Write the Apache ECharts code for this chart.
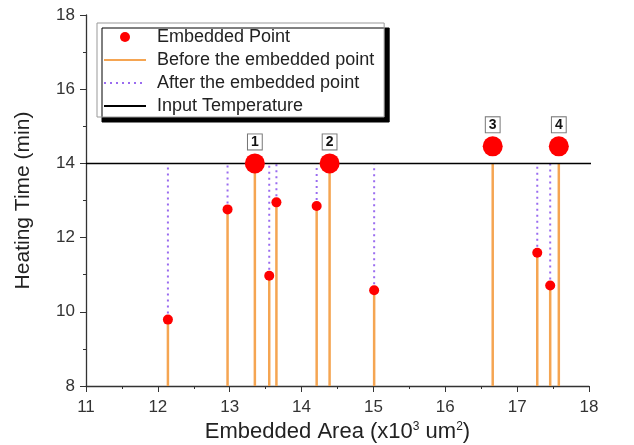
<!DOCTYPE html>
<html><head><meta charset="utf-8">
<script src="https://cdn.jsdelivr.net/npm/echarts@6/dist/echarts.min.js"></script>
<style>html,body{margin:0;padding:0;background:#fff}#c{width:634px;height:445px}</style>
</head><body><div id="c"></div>
<script>
const areas = [12.14, 12.97, 13.35, 13.55, 13.65, 14.21, 14.39, 15.01, 16.66, 17.28, 17.46, 17.58];
const times = [9.79, 12.76, 14.0, 10.97, 12.95, 12.85, 14.0, 10.58, 14.46, 11.59, 10.71, 14.46];
const pointLabels = ['', '', '1', '', '', '', '2', '', '3', '', '', '4'];
const inputTemperature = 14;
const inputRange = [11, 18.3];
const yMin = 8;
const xTicks = [11, 12, 13, 14, 15, 16, 17, 18];
const yTicks = [8, 10, 12, 14, 16, 18];

const before = [], after = [];
areas.forEach((x, i) => {
  const t = times[i];
  before.push([x, yMin], [x, Math.min(t, inputTemperature)], [x, '-']);
  if (t < inputTemperature) after.push([x, t], [x, inputTemperature], [x, '-']);
});
const points = areas.map((x, i) => ({
  value: [x, times[i]],
  symbolSize: pointLabels[i] ? 20 : 10,
  label: {show: !!pointLabels[i], formatter: pointLabels[i]}
}));

const font = 'Liberation Sans, Arial, sans-serif';
const noSym = {opacity: 0};
const chart = echarts.init(document.getElementById('c'), null, {renderer: 'canvas'});
chart.setOption({
  animation: false,
  textStyle: {fontFamily: font},
  grid: {left: 86, right: 45, top: 15, bottom: 59, containLabel: false, outerBoundsMode: 'none'},
  legend: {
    left: 97, top: 23, orient: 'vertical',
    itemGap: 5, itemWidth: 42, itemHeight: 10,
    padding: [5, 10, 2, 6],
    backgroundColor: '#fff', borderColor: '#999', borderWidth: 1,
    shadowColor: '#000', shadowBlur: 0, shadowOffsetX: 5, shadowOffsetY: 5,
    textStyle: {fontSize: 18, lineHeight: 18, color: '#222', fontFamily: font, padding: [0, 0, 0, 6]},
    data: [
      {name: 'Embedded Point'},
      {name: 'Before the embedded point', itemStyle: noSym},
      {name: 'After the embedded point', itemStyle: noSym},
      {name: 'Input Temperature', itemStyle: noSym}
    ]
  },
  xAxis: {
    type: 'value', min: 11, max: 18, interval: 1,
    name: 'Embedded Area (x10{sup|3} um{sup|2})', nameLocation: 'middle', nameGap: 33,
    nameTextStyle: {fontSize: 22, color: '#222', rich: {sup: {fontSize: 12, color: '#222', padding: [0, 0, 10, 0]}}},
    axisLine: {show: true, lineStyle: {color: '#333', width: 1.3}},
    axisTick: {show: true, length: 6, lineStyle: {color: '#333'}},
    minorTick: {show: true, splitNumber: 2, length: 3, lineStyle: {color: '#333'}},
    axisLabel: {fontSize: 17, color: '#333', margin: 13,
      formatter: v => xTicks.includes(v) ? String(v) : ''},
    splitLine: {show: false}
  },
  yAxis: {
    type: 'value', min: 8, max: 18, interval: 2,
    name: 'Heating Time (min)', nameLocation: 'middle', nameGap: 52, nameRotate: 90,
    nameTextStyle: {fontSize: 21, color: '#222'},
    axisLine: {show: true, lineStyle: {color: '#333', width: 1.3}},
    axisTick: {show: true, length: 6, lineStyle: {color: '#333'}},
    minorTick: {show: true, splitNumber: 2, length: 3, lineStyle: {color: '#333'}},
    axisLabel: {fontSize: 17, color: '#333', margin: 11,
      formatter: v => yTicks.includes(v) ? String(v) : ''},
    splitLine: {show: false}
  },
  series: [
    {
      name: 'After the embedded point', type: 'line', data: after, connectNulls: false,
      symbol: 'none', z: 2,
      lineStyle: {color: '#9a6cf0', width: 2, type: [2, 4]},
      itemStyle: {color: '#9a6cf0'}
    },
    {
      name: 'Before the embedded point', type: 'line', data: before, connectNulls: false,
      symbol: 'none', z: 3,
      lineStyle: {color: '#f5a552', width: 2.5},
      itemStyle: {color: '#f5a552'}
    },
    {
      name: 'Input Temperature', type: 'line', z: 4, symbol: 'none', clip: false,
      data: [[inputRange[0], inputTemperature], [inputRange[1], inputTemperature]],
      lineStyle: {color: '#000', width: 1.5},
      itemStyle: {color: '#000'}
    },
    {
      name: 'Embedded Point', type: 'scatter', z: 5, data: points, clip: false,
      itemStyle: {color: '#ff0000', opacity: 1},
      label: {
        position: 'top', distance: 4, fontSize: 14, fontWeight: 'bold', color: '#111',
        backgroundColor: '#fff', borderColor: '#777', borderWidth: 1, padding: [1, 3, 0, 3]
      }
    }
  ]
});
</script></body></html>
